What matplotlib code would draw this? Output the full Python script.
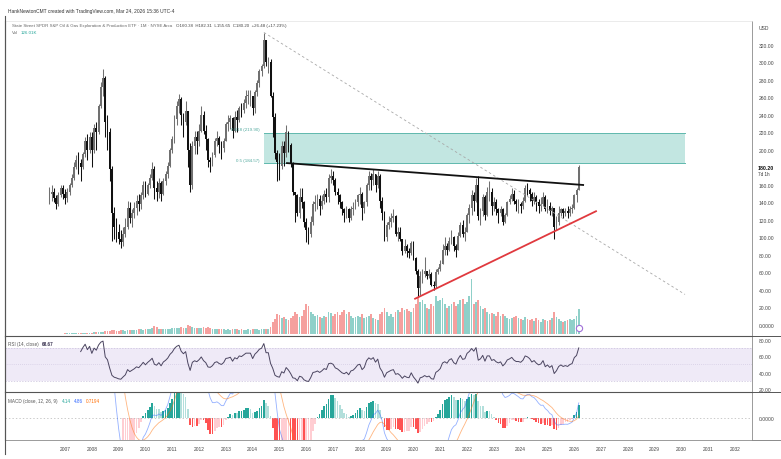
import matplotlib
matplotlib.use("Agg")
import matplotlib.pyplot as plt
from matplotlib.patches import Rectangle
from matplotlib.lines import Line2D
import numpy as np

plt.rcParams['font.family'] = ['Liberation Sans', 'DejaVu Sans']

# monthly bars (1M), Jun 2006 .. Mar 2026
close_px = [
    150, 152, 145, 138, 148, 156, 150,                                  # 2006
    145, 152, 160, 168, 180, 188, 185, 180, 195, 210, 200, 215,         # 2007
    200, 225, 220, 250, 272, 282, 232, 220, 178, 128, 112, 106,         # 2008
    98, 95, 104, 112, 134, 122, 128, 134, 142, 138, 148, 160,           # 2009
    150, 160, 168, 178, 156, 152, 162, 150, 165, 172, 182, 200,         # 2010
    212, 235, 250, 258, 240, 232, 244, 200, 160, 205, 215, 210,         # 2011
    222, 240, 222, 212, 188, 186, 194, 210, 214, 206, 202, 210,         # 2012
    230, 232, 236, 222, 238, 234, 248, 246, 254, 262, 262, 262,         # 2013
    248, 266, 276, 290, 296, 326, 300, 300, 262, 238, 196, 186,         # 2014
    182, 204, 196, 220, 206, 184, 152, 148, 128, 146, 140, 118,         # 2015
    108, 104, 118, 138, 140, 144, 136, 142, 150, 146, 168, 170,         # 2016
    166, 152, 148, 140, 132, 128, 132, 122, 132, 134, 140, 148,         # 2017
    150, 134, 140, 160, 170, 166, 172, 160, 170, 142, 128, 100,         # 2018
    114, 118, 122, 124, 104, 106, 98, 84, 90, 84, 82, 94,               # 2019
    76, 62, 42, 56, 58, 62, 56, 58, 46, 44, 60, 64,                     # 2020
    70, 86, 90, 86, 96, 100, 90, 86, 102, 114, 104, 106,                # 2021
    126, 134, 148, 142, 160, 124, 130, 146, 126, 152, 152, 136,         # 2022
    140, 132, 128, 132, 118, 126, 140, 144, 150, 142, 138, 138,         # 2023
    136, 142, 156, 154, 150, 142, 146, 140, 136, 138, 146, 132,         # 2024
    136, 130, 134, 112, 118, 128, 132, 128, 130, 128, 132, 134,         # 2025
    148, 153.72, 180.20,                                                # 2026
]
high_px = [
    158, 160, 156, 148, 152, 160, 160,
    155, 156, 162, 172, 186, 194, 198, 190, 198, 215, 218, 220,
    220, 230, 232, 252, 278, 292, 285, 240, 225, 182, 135, 122,
    115, 108, 112, 122, 142, 140, 132, 140, 148, 150, 152, 164,
    164, 162, 172, 186, 182, 165, 168, 164, 168, 176, 186, 202,
    216, 240, 256, 264, 260, 242, 256, 244, 208, 210, 222, 222,
    230, 250, 244, 228, 214, 192, 198, 214, 222, 216, 210, 214,
    232, 240, 240, 238, 244, 246, 250, 254, 258, 268, 268, 268,
    262, 268, 280, 292, 298, 334, 324, 306, 304, 266, 242, 200,
    196, 210, 210, 228, 222, 208, 186, 152, 150, 156, 156, 142,
    122, 112, 124, 142, 148, 150, 148, 148, 154, 156, 172, 178,
    176, 168, 156, 150, 142, 134, 136, 134, 136, 140, 144, 150,
    158, 152, 142, 162, 176, 174, 178, 172, 176, 172, 146, 130,
    118, 124, 128, 132, 126, 112, 112, 98, 98, 92, 88, 96,
    96, 78, 64, 62, 64, 78, 62, 64, 60, 50, 64, 66,
    74, 92, 100, 94, 100, 108, 102, 92, 106, 118, 120, 112,
    128, 138, 154, 152, 168, 170, 134, 150, 148, 158, 164, 156,
    146, 144, 134, 136, 134, 128, 142, 148, 156, 154, 144, 144,
    140, 146, 160, 162, 156, 152, 152, 148, 144, 146, 152, 148,
    144, 140, 136, 134, 124, 136, 134, 134, 134, 136, 136, 138,
    150, 156, 182.31,
]
low_px = [
    138, 142, 140, 132, 136, 146, 144,
    138, 140, 148, 158, 166, 178, 172, 165, 178, 192, 188, 196,
    180, 196, 200, 218, 248, 262, 215, 200, 165, 96, 98, 95,
    92, 88, 90, 100, 110, 116, 112, 122, 126, 130, 132, 144,
    146, 148, 156, 166, 144, 142, 145, 142, 148, 160, 168, 180,
    196, 208, 228, 242, 228, 215, 228, 180, 152, 155, 195, 195,
    205, 220, 218, 200, 180, 175, 182, 192, 204, 196, 190, 198,
    210, 222, 224, 214, 220, 220, 232, 238, 242, 248, 252, 250,
    240, 242, 262, 272, 284, 294, 296, 288, 260, 215, 190, 165,
    166, 178, 182, 192, 198, 180, 148, 118, 124, 122, 134, 112,
    95, 92, 100, 114, 130, 132, 126, 132, 138, 140, 140, 162,
    160, 148, 138, 134, 126, 118, 122, 118, 120, 126, 132, 136,
    138, 120, 128, 136, 154, 154, 160, 152, 156, 134, 120, 96,
    96, 110, 112, 118, 102, 96, 96, 80, 82, 78, 76, 80,
    74, 58, 32, 34, 48, 55, 52, 54, 44, 40, 42, 58,
    62, 70, 80, 80, 84, 92, 84, 78, 86, 100, 100, 96,
    106, 116, 126, 130, 140, 120, 114, 124, 120, 124, 142, 126,
    130, 126, 116, 124, 114, 116, 124, 138, 142, 138, 130, 128,
    128, 132, 140, 148, 142, 136, 138, 130, 128, 130, 136, 130,
    128, 126, 124, 98, 108, 114, 124, 122, 124, 122, 124, 128,
    132, 140, 155.65,
]
volume = [
    0.3, 0.3, 0.4, 0.4, 0.4, 0.5, 0.5,
    0.6, 0.6, 0.7, 0.8, 0.8, 0.9, 1.0, 1.2, 1.1, 1.2, 1.3, 1.2,
    1.5, 1.6, 1.8, 2.0, 2.2, 2.5, 3.0, 3.2, 3.5, 4.0, 3.6, 3.2,
    3.5, 3.8, 4.0, 3.5, 4.2, 4.5, 4.0, 4.2, 4.5, 5.0, 4.8, 4.5,
    5.5, 5.0, 4.8, 6.0, 8.0, 7.0, 5.5, 5.5, 5.0, 5.2, 5.5, 5.0,
    6.0, 6.5, 6.2, 5.8, 7.0, 6.5, 6.0, 9.0, 8.5, 7.5, 6.5, 6.0,
    6.0, 6.5, 6.8, 6.0, 7.0, 6.5, 5.5, 5.0, 5.5, 5.0, 5.2, 4.8,
    4.5, 4.8, 4.5, 5.0, 4.8, 5.0, 4.5, 4.8, 4.2, 4.5, 4.8, 4.5,
    5.0, 4.8, 5.0, 4.5, 4.8, 5.5, 5.0, 5.2, 7.0, 12, 15, 20,
    19, 16, 17, 15, 14, 16, 18, 22, 20, 17, 18, 24,
    30, 28, 22, 20, 18, 19, 17, 16, 18, 17, 22, 21,
    18, 20, 22, 19, 22, 24, 20, 22, 18, 16, 17, 18,
    17, 20, 16, 17, 18, 20, 16, 15, 14, 20, 22, 26,
    22, 18, 20, 17, 22, 24, 22, 26, 24, 25, 23, 22,
    26, 30, 36, 32, 34, 30, 26, 25, 30, 28, 38, 33,
    34, 36, 30, 26, 28, 30, 32, 28, 30, 34, 35, 30,
    32, 38, 55, 30, 32, 34, 28, 25, 26, 22, 20, 21,
    20, 18, 22, 18, 20, 18, 16, 15, 16, 17, 18, 16,
    15, 14, 17, 15, 14, 15, 13, 16, 14, 12, 15, 14,
    13, 14, 16, 22, 17, 15, 13, 12, 13, 14, 15, 14,
    15, 18, 25,
]

years = list(range(2007, 2033))
price_ticks = [0, 20, 40, 60, 80, 100, 120, 140, 160, 200, 220, 240, 260, 280, 300, 320]
fib_levels = [(0.5, 184.57), (0.618, 219.90)]
fib_anchor = [(2014.42, 334.3), (2030.13, 34.9)]
res_line = [(2015.28, 185.0), (2026.33, 160.0)]
sup_line = [(2020.06, 30.0), (2026.81, 130.0)]

c = np.array(close_px, float)
o = np.r_[c[0], c[:-1]]
hi = np.maximum(np.array(high_px, float), np.maximum(o, c))
lo = np.minimum(np.array(low_px, float), np.minimum(o, c))
n = len(c)
t = 2006 + (5 + np.arange(n)) / 12.0
up = c >= o


def rsi(x, period=14):
    d = np.diff(x, prepend=np.nan)
    g = np.where(d > 0, d, 0.0)
    l = np.where(d < 0, -d, 0.0)
    out = np.full(len(x), np.nan)
    ag = g[1:period + 1].mean()
    al = l[1:period + 1].mean()
    out[period] = 100 - 100 / (1 + ag / al)
    for i in range(period + 1, len(x)):
        ag = (ag * (period - 1) + g[i]) / period
        al = (al * (period - 1) + l[i]) / period
        out[i] = 100 - 100 / (1 + ag / al)
    return out


def ema(x, period):
    out = np.full(len(x), np.nan)
    idx = np.where(~np.isnan(x))[0]
    f = idx[0]
    a = 2.0 / (period + 1)
    out[f + period - 1] = np.mean(x[f:f + period])
    for i in range(f + period, len(x)):
        out[i] = a * x[i] + (1 - a) * out[i - 1]
    return out


rsi_v = rsi(c)
macd = ema(c, 12) - ema(c, 26)
signal = ema(macd, 9)
hist = macd - signal

W, H = 781, 460
fig = plt.figure(figsize=(W / 100, H / 100), dpi=100)


def px_axes(x0, y0, x1, y1):
    return fig.add_axes([x0 / W, 1 - y1 / H, (x1 - x0) / W, (y1 - y0) / H])


ax = px_axes(5, 22, 752, 337)
ax_r = px_axes(5, 337, 752, 393)
ax_m = px_axes(5, 393, 752, 441)
XL = (2004.76, 2032.63)

# volume behind the price bars
ax_v = ax.twinx()
vcol = np.where(up, '#8fd0c9', '#f5a09e')
ax_v.bar(t, volume, width=0.066, color=vcol, lw=0)
ax_v.set_ylim(-2, 313)
ax_v.axis('off')
ax.set_zorder(ax_v.get_zorder() + 1)
ax.patch.set_visible(False)

# candles
ccol = np.where(up, '#707070', '#111111')
ax.vlines(t, lo, hi, colors=ccol, lw=0.75)
ax.bar(t, np.maximum(np.abs(c - o), 0.8), bottom=np.minimum(o, c), width=0.066, color=ccol, lw=0)

# fib retracement box
x0, x1 = fib_anchor[0][0], fib_anchor[1][0]
ax.add_patch(Rectangle((x0, fib_levels[0][1]), x1 - x0, fib_levels[1][1] - fib_levels[0][1],
                       facecolor='#c2e6e1', edgecolor='none', zorder=0.5))
for r, v in fib_levels:
    ax.plot([x0, x1], [v, v], color='#5fb8ad', lw=0.7, zorder=0.6)
    ax.text(x0 - 0.15, v + 2, f'{r} ({v:.2f})', ha='right', va='bottom', fontsize=3.2, color='#4fa89d')
ax.plot(*zip(*fib_anchor), color='#a8a8a8', lw=0.6, ls=(0, (3, 3)))

ax.plot(*zip(*res_line), color='#111111', lw=1.3)
ax.plot(*zip(*sup_line), color='#e0393e', lw=1.3)
ax.plot([t[-1]], [-3.4], marker='o', ms=4.5, mfc='white', mec='#a070d8', mew=0.8)

ax.set_xlim(*XL)
ax.set_ylim(-12.6, 347.4)
ax.yaxis.tick_right()
ax.set_yticks(price_ticks)
ax.set_yticklabels(['0.0000' if v == 0 else f'{v:.2f}' for v in price_ticks])
ax.set_xticks([])

# RSI
ax_r.axhspan(30, 70, color='#7e57c2', alpha=0.12, lw=0)
for lv, ls in [(70, (0, (2, 2))), (30, (0, (2, 2))), (50, (0, (1, 2)))]:
    ax_r.axhline(lv, color='#c9c0dc', lw=0.5, ls=ls)
ax_r.plot(t, rsi_v, color='#4b4560', lw=0.7)
ax_r.set_xlim(*XL)
ax_r.set_ylim(16.7, 84.5)
ax_r.yaxis.tick_right()
ax_r.set_yticks([20, 40, 60, 80])
ax_r.set_yticklabels(['20.00', '40.00', '60.00', '80.00'])
ax_r.set_xticks([])

# MACD
hcol = []
for i in range(n):
    h = hist[i]
    prev = hist[i - 1] if i > 0 else np.nan
    if h >= 0:
        hcol.append('#26a69a' if not np.isnan(prev) and h > prev else '#b2dfdb')
    else:
        hcol.append('#ff5252' if not np.isnan(prev) and h < prev else '#ffcdd2')
ax_m.axhline(0, color='#b5b5b5', lw=0.5, ls=(0, (2, 3)))
ax_m.bar(t, np.nan_to_num(hist), width=0.062, color=hcol, lw=0)
ax_m.plot(t, macd, color='#2962ff', lw=0.6, alpha=0.5)
ax_m.plot(t, signal, color='#ff6d00', lw=0.6, alpha=0.5)
ax_m.set_xlim(*XL)
ax_m.set_ylim(-7.3, 8.7)
ax_m.yaxis.tick_right()
ax_m.set_yticks([0])
ax_m.set_yticklabels(['0.0000'])
ax_m.set_xticks(years)
ax_m.set_xticklabels([str(y) for y in years])
ax_m.tick_params(axis='x', length=0, pad=4, labelsize=3.5, colors='#444')

for a in (ax, ax_r, ax_m):
    a.tick_params(axis='y', length=0, pad=5, labelsize=3.6, colors='#444')
    a.spines['left'].set_color('#555555')
    a.spines['left'].set_linewidth(0.8)
    a.spines['right'].set_color('#8a8a8a')
    a.spines['right'].set_linewidth(0.6)
    a.spines['bottom'].set_visible(False)
for a in (ax_r, ax_m):
    a.spines['top'].set_color('#555555')
    a.spines['top'].set_linewidth(0.8)
ax.spines['top'].set_color('#e3e3e3')
ax.spines['top'].set_linewidth(0.5)
ax_m.spines['bottom'].set_visible(True)
ax_m.spines['bottom'].set_color('#8a8a8a')
ax_m.spines['bottom'].set_linewidth(0.6)

# lines extending across the price scale column
for yy, col in [(337, '#555555'), (393, '#555555'), (441, '#8a8a8a')]:
    fig.add_artist(Line2D([752 / W, 1], [1 - yy / H, 1 - yy / H], color=col, lw=0.7))
fig.add_artist(Line2D([5 / W, 5 / W], [1 - 17 / H, 1 - 455 / H], color='#555555', lw=0.8))


def fy(y):
    return 1 - y / H


def chain(prev, s, color, gap=2.0, **kw):
    return ax.annotate(s, xy=(1, 0), xycoords=prev, xytext=(gap, 0), textcoords='offset points',
                       ha='left', va='bottom', color=color, annotation_clip=False, **kw)


fig.text(8 / W, fy(11), 'HankNewtonCMT created with TradingView.com, Mar 24, 2026 15:36 UTC-4',
         fontsize=3.55, color='#333333', va='center')
t1 = fig.text(12 / W, fy(26), 'State Street SPDR S&P Oil & Gas Exploration & Production ETF · 1M · NYSE Arca',
              fontsize=3.2, color='#666666', va='center')
chain(t1, 'O160.38  H182.31  L155.65  C180.20  +26.48 (+17.23%)', '#444444', gap=3, fontsize=3.2)
t2 = fig.text(12 / W, fy(33), 'Vol', fontsize=3.2, color='#666666', va='center')
chain(t2, '126.01K', '#26a69a', fontsize=3.2)

t3 = fig.text(8 / W, fy(345), 'RSI (14, close)', fontsize=3.3, color='#555555', va='center')
chain(t3, '68.67', '#3b3452', fontsize=3.3, fontweight='bold')
t4 = fig.text(8 / W, fy(402), 'MACD (close, 12, 26, 9)', fontsize=3.3, color='#555555', va='center')
t5 = chain(t4, '4.14', '#26a69a', gap=3, fontsize=3.3)
t6 = chain(t5, '4.86', '#2962ff', gap=2, fontsize=3.3)
chain(t6, '0.7194', '#ff6d00', gap=2, fontsize=3.3)

fig.text(759 / W, fy(28), 'USD', fontsize=3.6, color='#444444', va='center')
fig.text(758 / W, fy(168), '180.20', fontsize=3.8, color='#111111', fontweight='bold', va='center')
fig.text(758 / W, fy(175), '7d 1h', fontsize=3.3, color='#333333', va='center')

fig.savefig('out.png', dpi=100, facecolor='white')
